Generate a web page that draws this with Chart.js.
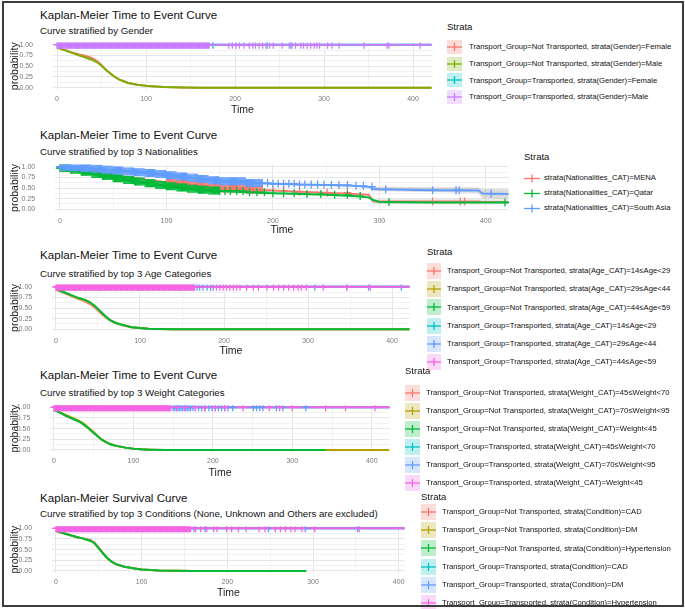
<!DOCTYPE html>
<html>
<head>
<meta charset="utf-8">
<script src="https://cdn.jsdelivr.net/npm/chart.js@4.4.1/dist/chart.umd.min.js"></script>
<style>
  html, body { margin: 0; padding: 0; background: #fff; }
  #page { position: relative; width: 685px; height: 609px; overflow: hidden; font-family: "Liberation Sans", Arial, sans-serif; }
  #frame { position: absolute; left: 2px; top: 1px; width: 678px; height: 602px; border: 2px solid #3c3c3c; z-index: 5; pointer-events: none; }
  canvas.km { position: absolute; left: 0; }
  .ttl { position: absolute; left: 40px; font-size: 11.6px; line-height: 1; color: #111; white-space: nowrap; }
  .sub { position: absolute; left: 40px; font-size: 9.7px; line-height: 1; color: #111; white-space: nowrap; }
  .lt { position: absolute; font-size: 9.5px; line-height: 1; color: #111; white-space: nowrap; }
  .row { position: absolute; display: flex; align-items: center; white-space: nowrap; }
  .row span { font-size: 7.7px; line-height: 1; color: #111; }
  .row svg { display: block; flex: none; }
</style>
</head>
<body>
<div id="page">
  <div class="ttl" style="top:8.5px">Kaplan-Meier Time to Event Curve</div>
  <div class="sub" style="top:26px">Curve stratified by Gender</div>
  <div class="ttl" style="top:128.5px">Kaplan-Meier Time to Event Curve</div>
  <div class="sub" style="top:147px">Curve stratified by top 3 Nationalities</div>
  <div class="ttl" style="top:249px">Kaplan-Meier Time to Event Curve</div>
  <div class="sub" style="top:268.7px">Curve stratified by top 3 Age Categories</div>
  <div class="ttl" style="top:369px">Kaplan-Meier Time to Event Curve</div>
  <div class="sub" style="top:388px">Curve stratified by top 3 Weight Categories</div>
  <div class="ttl" style="top:492px">Kaplan-Meier Survival Curve</div>
  <div class="sub" style="top:508.7px">Curve stratified by top 3 Conditions (None, Unknown and Others are excluded)</div>
  <canvas class="km" id="cGender"></canvas>
  <canvas class="km" id="cNation"></canvas>
  <canvas class="km" id="cAge"></canvas>
  <canvas class="km" id="cWeight"></canvas>
  <canvas class="km" id="cCond"></canvas>
  <div id="legends"></div>
  <div id="frame"></div>
</div>
<script>
Chart.defaults.font.family = '"Liberation Sans", Arial, sans-serif';

const COLORS4 = ["#F8766D", "#7CAE00", "#00BFC4", "#C77CFF"];
const COLORS3 = ["#F8766D", "#00BA38", "#619CFF"];
const COLORS6 = ["#F8766D", "#B79F00", "#00BA38", "#00BFC4", "#619CFF", "#F564E3"];

const xTickVals = [0, 50, 100, 150, 200, 250, 300, 350, 400];
const yTickVals = [0, 0.125, 0.25, 0.375, 0.5, 0.625, 0.75, 0.875, 1];

// censored times where the marks pile up into a solid band
const denseCensor = [
  0, 1, 2, 3, 4, 5, 6, 7, 8, 9, 10, 11, 12, 13, 14, 15, 16, 17, 18, 19,
  20, 21, 22, 23, 24, 25, 26, 27, 28, 29, 30, 31, 32, 33, 34, 35, 36, 37, 38, 39,
  40, 41, 42, 43, 44, 45, 46, 47, 48, 49, 50, 51, 52, 53, 54, 55, 56, 57, 58, 59,
  60, 61, 62, 63, 64, 65, 66, 67, 68, 69, 70, 71, 72, 73, 74, 75, 76, 77, 78, 79,
  80, 81, 82, 83, 84, 85, 86, 87, 88, 89, 90, 91, 92, 93, 94, 95, 96, 97, 98, 99,
  100, 101, 102, 103, 104, 105, 106, 107, 108, 109, 110, 111, 112, 113, 114, 115, 116, 117, 118, 119,
  120, 121, 122, 123, 124, 125, 126, 127, 128, 129, 130, 131, 132, 133, 134, 135, 136, 137, 138, 139,
  140, 141, 142, 143, 144, 145, 146, 147, 148, 149, 150, 151, 152, 153, 154, 155, 156, 157, 158, 159,
  160, 161, 162, 163, 164, 165, 166, 167, 168, 169, 170, 171, 172, 173, 174, 175, 176, 177, 178, 179,
  180, 181, 182, 183, 184, 185, 186, 187, 188, 189, 190
];

// ---- panel 1 : gender
const genderTimes = [0, 5, 10, 15, 20, 25, 30, 35, 40, 45, 50, 55, 60, 65, 70, 75, 80, 90, 100, 110, 120, 140, 160, 421];
const genderNotFemale = [0.94, 0.90, 0.87, 0.83, 0.80, 0.77, 0.75, 0.72, 0.68, 0.62, 0.53, 0.42, 0.33, 0.25, 0.19, 0.15, 0.11, 0.07, 0.045, 0.03, 0.018, 0.005, 0, 0];
const genderNotMale = [0.94, 0.90, 0.86, 0.82, 0.79, 0.75, 0.72, 0.68, 0.64, 0.59, 0.51, 0.41, 0.33, 0.25, 0.19, 0.15, 0.11, 0.07, 0.045, 0.03, 0.018, 0.005, 0, 0];
const genderFlatTimes = [0, 421];
const genderTransFemale = [1, 1];
const genderTransMale = [1, 1];
const genderCensorMale = [193, 197, 201, 205, 210, 216, 220, 223, 227, 231, 235, 239, 243, 253, 261, 264, 268, 274, 277, 281, 285, 289, 292, 295, 304, 309, 317, 345, 371, 373, 408];
const genderCensorFemale = [175, 236, 263];

// ---- panel 2 : nationalities
const natTimes = [0, 10, 20, 30, 40, 50, 60, 70, 80, 90, 100, 110, 120, 130, 140, 150, 175, 200, 225, 250, 275, 290, 294, 300, 350, 393, 397, 421.5];
const natMena = [0.99, 0.97, 0.93, 0.89, 0.85, 0.81, 0.77, 0.74, 0.70, 0.67, 0.63, 0.60, 0.57, 0.54, 0.51, 0.49, 0.46, 0.44, 0.41, 0.39, 0.36, 0.34, 0.19, 0.18, 0.18, 0.18, 0.17, 0.17];
const natQatar = [0.97, 0.93, 0.88, 0.83, 0.78, 0.73, 0.69, 0.65, 0.61, 0.57, 0.54, 0.51, 0.48, 0.46, 0.44, 0.43, 0.40, 0.375, 0.36, 0.34, 0.31, 0.28, 0.22, 0.17, 0.16, 0.16, 0.16, 0.16];
const natSouthAsia = [1.00, 0.99, 0.97, 0.95, 0.93, 0.91, 0.89, 0.87, 0.85, 0.83, 0.80, 0.77, 0.74, 0.71, 0.68, 0.66, 0.62, 0.60, 0.58, 0.57, 0.55, 0.53, 0.48, 0.47, 0.45, 0.44, 0.37, 0.36];
const natCensorMena = [200, 210, 225, 251, 270, 350, 376, 380];
const natCensorQatar = [155, 160, 166, 172, 178, 185, 192, 200, 210, 220, 232, 245, 258, 270, 282, 309, 418];
const natCensorSouthAsia = [195, 200, 205, 210, 215, 220, 225, 230, 236, 242, 248, 255, 262, 270, 278, 285, 293, 306, 350, 372, 375, 405];
const natBandTimes = [293, 393, 397, 421.5];
const natBandUpper = [0.53, 0.51, 0.47, 0.47];
const natBandLower = [0.43, 0.38, 0.26, 0.25];
const natLowBandTimes = [294, 421.5];
const natLowBandUpper = [0.24, 0.24];
const natLowBandLower = [0.12, 0.11];

// ---- panel 3 : age
const ageTimes = [0, 5, 10, 15, 20, 25, 30, 35, 40, 45, 50, 55, 60, 65, 70, 75, 80, 90, 100, 110, 120, 140, 160, 421];
const ageNot14 = [0.93, 0.89, 0.85, 0.81, 0.77, 0.73, 0.69, 0.65, 0.60, 0.53, 0.44, 0.35, 0.27, 0.20, 0.15, 0.12, 0.09, 0.05, 0.03, 0.015, 0.008, 0.002, 0, 0];
const ageNot29 = [0.94, 0.90, 0.86, 0.82, 0.78, 0.74, 0.71, 0.68, 0.63, 0.56, 0.47, 0.37, 0.28, 0.21, 0.16, 0.125, 0.10, 0.05, 0.03, 0.015, 0.008, 0.002, 0, 0];
const ageNot44 = [0.94, 0.91, 0.87, 0.83, 0.79, 0.75, 0.72, 0.69, 0.64, 0.57, 0.48, 0.38, 0.29, 0.21, 0.16, 0.125, 0.10, 0.05, 0.03, 0.015, 0.008, 0.002, 0, 0];
const ageFlatTimes = [0, 421];
const ageTrans = [1, 1];
const ageCensorPink = [191, 195, 199, 203, 207, 211, 215, 219, 227, 235, 241, 251, 259, 265, 271, 277, 283, 288, 292, 298, 318, 346, 374];
const ageCensorBlue = [168, 171, 175, 180, 184, 187, 308, 346, 372, 411];

// ---- panel 4 : weight
const weightTimes = [0, 5, 10, 15, 20, 25, 30, 35, 40, 45, 50, 55, 60, 65, 70, 75, 80, 90, 100, 110, 120, 140, 160, 342];
const weightLongTimes = [0, 5, 10, 15, 20, 25, 30, 35, 40, 45, 50, 55, 60, 65, 70, 75, 80, 90, 100, 110, 120, 140, 160, 422];
const weightNot45 = [0.94, 0.90, 0.85, 0.80, 0.76, 0.72, 0.68, 0.63, 0.56, 0.48, 0.40, 0.32, 0.24, 0.19, 0.14, 0.11, 0.09, 0.055, 0.03, 0.015, 0.008, 0.002, 0, 0];
const weightNot70 = [0.94, 0.90, 0.86, 0.82, 0.78, 0.74, 0.70, 0.65, 0.58, 0.50, 0.42, 0.33, 0.25, 0.19, 0.145, 0.115, 0.09, 0.055, 0.03, 0.015, 0.008, 0.002, 0, 0];
const weightNotUnder45 = [0.94, 0.90, 0.85, 0.80, 0.76, 0.72, 0.68, 0.63, 0.56, 0.48, 0.40, 0.32, 0.24, 0.19, 0.14, 0.11, 0.09, 0.055, 0.03, 0.015, 0.008, 0.002, 0, 0];
const weightFlatTimes = [0, 422.6];
const weightTrans = [1, 1];
const weightCensorPink = [155, 165, 178, 190, 203, 215, 238, 271, 284, 300, 342, 367, 404];
const weightCensorBlue = [150, 152, 154, 156, 158, 160, 162, 164, 166, 168, 170, 172, 175, 178, 182, 186, 190, 195, 199, 203, 207, 211, 215, 219, 225, 251, 255, 259, 263, 280, 288, 317];

// ---- panel 5 : conditions
const condTimes = [0, 5, 10, 15, 20, 25, 30, 35, 40, 45, 50, 55, 60, 65, 70, 75, 80, 90, 100, 110, 120, 140, 160, 292];
const condNotCad = [0.94, 0.91, 0.88, 0.85, 0.82, 0.79, 0.77, 0.75, 0.73, 0.67, 0.55, 0.42, 0.30, 0.22, 0.16, 0.13, 0.10, 0.065, 0.035, 0.02, 0.01, 0.003, 0, 0];
const condNotDm = [0.94, 0.91, 0.88, 0.85, 0.82, 0.79, 0.77, 0.74, 0.71, 0.65, 0.53, 0.41, 0.30, 0.22, 0.16, 0.13, 0.10, 0.065, 0.035, 0.02, 0.01, 0.003, 0, 0];
const condNotHyp = [0.94, 0.91, 0.88, 0.85, 0.82, 0.79, 0.77, 0.74, 0.71, 0.65, 0.53, 0.41, 0.30, 0.22, 0.16, 0.13, 0.10, 0.065, 0.035, 0.02, 0.01, 0.003, 0, 0];
const condFlatTimes = [0, 407];
const condTrans = [1, 1];
const condCensorPink = [163, 169, 176, 184, 188, 199, 205, 213, 222, 237, 244, 256, 262, 268, 274, 279, 287, 302, 354];
const condCensorBlue = [161, 174, 248, 291, 352];

// legend texts
const genderLabels = [
  "Transport_Group=Not Transported, strata(Gender)=Female",
  "Transport_Group=Not Transported, strata(Gender)=Male",
  "Transport_Group=Transported, strata(Gender)=Female",
  "Transport_Group=Transported, strata(Gender)=Male"
];
const natLabels = [
  "strata(Nationalities_CAT)=MENA",
  "strata(Nationalities_CAT)=Qatar",
  "strata(Nationalities_CAT)=South Asia"
];
const ageLabels = [
  "Transport_Group=Not Transported, strata(Age_CAT)=14≤Age<29",
  "Transport_Group=Not Transported, strata(Age_CAT)=29≤Age<44",
  "Transport_Group=Not Transported, strata(Age_CAT)=44≤Age<59",
  "Transport_Group=Transported, strata(Age_CAT)=14≤Age<29",
  "Transport_Group=Transported, strata(Age_CAT)=29≤Age<44",
  "Transport_Group=Transported, strata(Age_CAT)=44≤Age<59"
];
const weightLabels = [
  "Transport_Group=Not Transported, strata(Weight_CAT)=45≤Weight<70",
  "Transport_Group=Not Transported, strata(Weight_CAT)=70≤Weight<95",
  "Transport_Group=Not Transported, strata(Weight_CAT)=Weight<45",
  "Transport_Group=Transported, strata(Weight_CAT)=45≤Weight<70",
  "Transport_Group=Transported, strata(Weight_CAT)=70≤Weight<95",
  "Transport_Group=Transported, strata(Weight_CAT)=Weight<45"
];
const condLabels = [
  "Transport_Group=Not Transported, strata(Condition)=CAD",
  "Transport_Group=Not Transported, strata(Condition)=DM",
  "Transport_Group=Not Transported, strata(Condition)=Hypertension",
  "Transport_Group=Transported, strata(Condition)=CAD",
  "Transport_Group=Transported, strata(Condition)=DM",
  "Transport_Group=Transported, strata(Condition)=Hypertension"
];

function pts(times, surv) {
  return times.map((t, i) => ({ x: t, y: surv[i] }));
}

// KM value at time t (last step at or before t)
function stepAt(times, surv, t) {
  let v = surv[0];
  for (let i = 0; i < times.length; i++) {
    if (times[i] <= t) v = surv[i];
  }
  return v;
}

function censorPts(marks, times, surv) {
  return marks.map((t) => ({ x: t, y: stepAt(times, surv, t) }));
}

function curve(color, data) {
  return { data, borderColor: color, borderWidth: 2, pointRadius: 0, fill: false, tension: 0 };
}

function marks(color, data) {
  return {
    data, showLine: false, borderColor: color, backgroundColor: color,
    pointStyle: "cross", pointRadius: 4, pointHoverRadius: 4, pointBorderWidth: 1.3
  };
}

function band(color, data, fill) {
  return { data, borderWidth: 0, pointRadius: 0, backgroundColor: color, borderColor: "rgba(0,0,0,0)", fill, tension: 0 };
}

function makeChart(id, g, datasets) {
  const cv = document.getElementById(id);
  const top = Math.floor(g.T - 9);
  const bottom = Math.ceil(g.timeY + 8);
  const width = Math.ceil(g.R + 4);
  cv.style.top = top + "px";
  cv.width = width;
  cv.height = bottom - top;
  cv.style.width = width + "px";
  cv.style.height = bottom - top + "px";

  new Chart(cv, {
    type: "line",
    data: { datasets },
    options: {
      responsive: false,
      animation: false,
      events: [],
      layout: { padding: { top: g.T - top, left: 0, right: width - g.R, bottom: 0 } },
      plugins: { legend: { display: false }, tooltip: { enabled: false } },
      scales: {
        x: {
          type: "linear",
          min: g.xmin,
          max: g.xmax,
          afterBuildTicks: (s) => {
            s.ticks = xTickVals.filter((v) => v <= g.xmax).map((v) => ({ value: v }));
          },
          afterFit: (s) => {
            s.height = bottom - g.B;
          },
          grid: {
            drawTicks: false,
            lineWidth: 1,
            color: (c) => (c.tick && c.tick.value % 100 === 0 ? "#e6e6e6" : "#f2f2f2")
          },
          border: { display: false },
          ticks: {
            autoSkip: false, maxRotation: 0, padding: 5, color: "#7a7a7a", font: { size: 7 },
            callback: (v) => (v % 100 === 0 ? String(v) : "")
          },
          title: {
            display: true, text: "Time", color: "#1a1a1a", font: { size: 10.5 },
            padding: { top: 0, bottom: bottom - g.timeY - 6.3 }
          }
        },
        y: {
          min: -0.05,
          max: 1.05,
          afterBuildTicks: (s) => {
            s.ticks = yTickVals.map((v) => ({ value: v }));
          },
          afterFit: (s) => {
            s.width = g.L;
          },
          grid: {
            drawTicks: true,
            tickLength: 18,
            tickColor: "rgba(0,0,0,0)",
            lineWidth: 1,
            color: (c) => (c.tick && Math.round(c.tick.value * 1000) % 250 === 0 ? "#e6e6e6" : "#f2f2f2")
          },
          border: { display: false },
          ticks: {
            autoSkip: false, padding: 2, color: "#7a7a7a", font: { size: 7 },
            callback: (v) => (Math.round(v * 1000) % 250 === 0 ? v.toFixed(2) : "")
          },
          title: {
            display: true, text: "probability", color: "#1a1a1a", font: { size: 10.5 },
            padding: { top: 8.7, bottom: 0 }
          }
        }
      }
    }
  });
}

function keySvg(color, w, h, filled) {
  const m = h / 2;
  return `<svg width="${w}" height="${h}">` +
    (filled ? `<rect x="0" y="0" width="${w}" height="${h}" fill="${color}" fill-opacity="0.25"/>` : "") +
    `<line x1="0" y1="${m}" x2="${w}" y2="${m}" stroke="${color}" stroke-width="1.3"/>` +
    `<line x1="${w / 2}" y1="${m - 4}" x2="${w / 2}" y2="${m + 4}" stroke="${color}" stroke-width="1.3"/>` +
    `</svg>`;
}

function makeLegend(l) {
  const host = document.getElementById("legends");
  let html = `<div class="lt" style="left:${l.left}px;top:${l.titleY - 4.7}px">Strata</div>`;
  l.labels.forEach((label, i) => {
    const cy = l.rowY + i * l.step;
    html += `<div class="row" style="left:${l.left}px;top:${cy - l.keyH / 2}px;height:${l.keyH}px">` +
      keySvg(l.colors[i], l.keyW, l.keyH, l.filled) +
      `<span style="margin-left:${l.textLeft - l.left - l.keyW}px">${label.replace(/</g, "&lt;")}</span></div>`;
  });
  host.insertAdjacentHTML("beforeend", html);
}

// panel 1
makeChart("cGender", { L: 53, R: 433, T: 42.5, B: 89.9, xmin: -4.5, xmax: 421, timeY: 110 }, [
  marks(COLORS4[3], censorPts(denseCensor.filter((t) => t <= 171).concat(genderCensorMale), genderFlatTimes, genderTransMale)),
  curve(COLORS4[3], pts(genderFlatTimes, genderTransMale)),
  marks(COLORS4[2], censorPts(genderCensorFemale, genderFlatTimes, genderTransFemale)),
  curve(COLORS4[2], pts(genderFlatTimes, genderTransFemale)),
  curve(COLORS4[1], pts(genderTimes, genderNotMale)),
  curve(COLORS4[0], pts(genderTimes, genderNotFemale))
]);

// panel 2
makeChart("cNation", { L: 55.2, R: 510, T: 164.6, B: 211.4, xmin: -4.5, xmax: 421.5, timeY: 230.5 }, [
  marks(COLORS3[2], censorPts(denseCensor.filter((t) => t <= 190).concat(natCensorSouthAsia), natTimes, natSouthAsia)),
  curve(COLORS3[2], pts(natTimes, natSouthAsia)),
  marks(COLORS3[1], censorPts(denseCensor.filter((t) => t <= 150).concat(natCensorQatar), natTimes, natQatar)),
  curve(COLORS3[1], pts(natTimes, natQatar)),
  marks(COLORS3[0], censorPts(denseCensor.filter((t) => t >= 100 && t <= 190).concat(natCensorMena), natTimes, natMena)),
  curve(COLORS3[0], pts(natTimes, natMena)),
  band("rgba(0,0,0,0)", pts(natBandTimes, natBandUpper), false),
  band("rgba(150,150,150,0.35)", pts(natBandTimes, natBandLower), "-1"),
  band("rgba(0,0,0,0)", pts(natLowBandTimes, natLowBandUpper), false),
  band("rgba(150,150,150,0.2)", pts(natLowBandTimes, natLowBandLower), "-1")
]);

// panel 3
makeChart("cAge", { L: 52.2, R: 411, T: 284.6, B: 331.4, xmin: -4.5, xmax: 421, timeY: 351 }, [
  marks(COLORS6[5], censorPts(denseCensor.filter((t) => t <= 165).concat(ageCensorPink), ageFlatTimes, ageTrans)),
  curve(COLORS6[5], pts(ageFlatTimes, ageTrans)),
  marks(COLORS6[4], censorPts(ageCensorBlue, ageFlatTimes, ageTrans)),
  curve(COLORS6[4], pts(ageFlatTimes, ageTrans)),
  curve(COLORS6[3], pts(ageFlatTimes, ageTrans)),
  curve(COLORS6[2], pts(ageTimes, ageNot44)),
  curve(COLORS6[1], pts(ageTimes, ageNot29)),
  curve(COLORS6[0], pts(ageTimes, ageNot14))
]);

// panel 4
makeChart("cWeight", { L: 50.4, R: 391, T: 405.2, B: 452.1, xmin: -4.5, xmax: 422.6, timeY: 473 }, [
  marks(COLORS6[5], censorPts(denseCensor.filter((t) => t <= 147).concat(weightCensorPink), weightFlatTimes, weightTrans)),
  marks(COLORS6[4], censorPts(weightCensorBlue, weightFlatTimes, weightTrans)),
  curve(COLORS6[5], pts(weightFlatTimes, weightTrans)),
  curve(COLORS6[4], pts(weightFlatTimes, weightTrans)),
  curve(COLORS6[3], pts(weightFlatTimes, weightTrans)),
  curve(COLORS6[2], pts(weightTimes, weightNotUnder45)),
  curve(COLORS6[1], pts(weightLongTimes, weightNot70)),
  curve(COLORS6[0], pts(weightTimes, weightNot45))
]);

// panel 5
makeChart("cCond", { L: 52.1, R: 406, T: 526.2, B: 573.1, xmin: -4.5, xmax: 407, timeY: 593 }, [
  marks(COLORS6[5], censorPts(denseCensor.filter((t) => t <= 157).concat(condCensorPink), condFlatTimes, condTrans)),
  marks(COLORS6[4], censorPts(condCensorBlue, condFlatTimes, condTrans)),
  curve(COLORS6[5], pts(condFlatTimes, condTrans)),
  curve(COLORS6[4], pts(condFlatTimes, condTrans)),
  curve(COLORS6[3], pts(condFlatTimes, condTrans)),
  curve(COLORS6[2], pts(condTimes, condNotHyp)),
  curve(COLORS6[1], pts(condTimes, condNotDm)),
  curve(COLORS6[0], pts(condTimes, condNotCad))
]);

makeLegend({ left: 447, titleY: 27, rowY: 47, step: 16.7, keyW: 15, keyH: 14, textLeft: 469, filled: true, colors: COLORS4, labels: genderLabels });
makeLegend({ left: 524, titleY: 157, rowY: 178, step: 15, keyW: 16, keyH: 13, textLeft: 544, filled: false, colors: COLORS3, labels: natLabels });
makeLegend({ left: 427, titleY: 252, rowY: 271, step: 18.2, keyW: 14, keyH: 16, textLeft: 447, filled: true, colors: COLORS6, labels: ageLabels });
makeLegend({ left: 405, titleY: 371, rowY: 393, step: 17.9, keyW: 15, keyH: 16, textLeft: 426, filled: true, colors: COLORS6, labels: weightLabels });
makeLegend({ left: 421, titleY: 497, rowY: 512, step: 18.2, keyW: 15, keyH: 16, textLeft: 442, filled: true, colors: COLORS6, labels: condLabels });
</script>
</body>
</html>
